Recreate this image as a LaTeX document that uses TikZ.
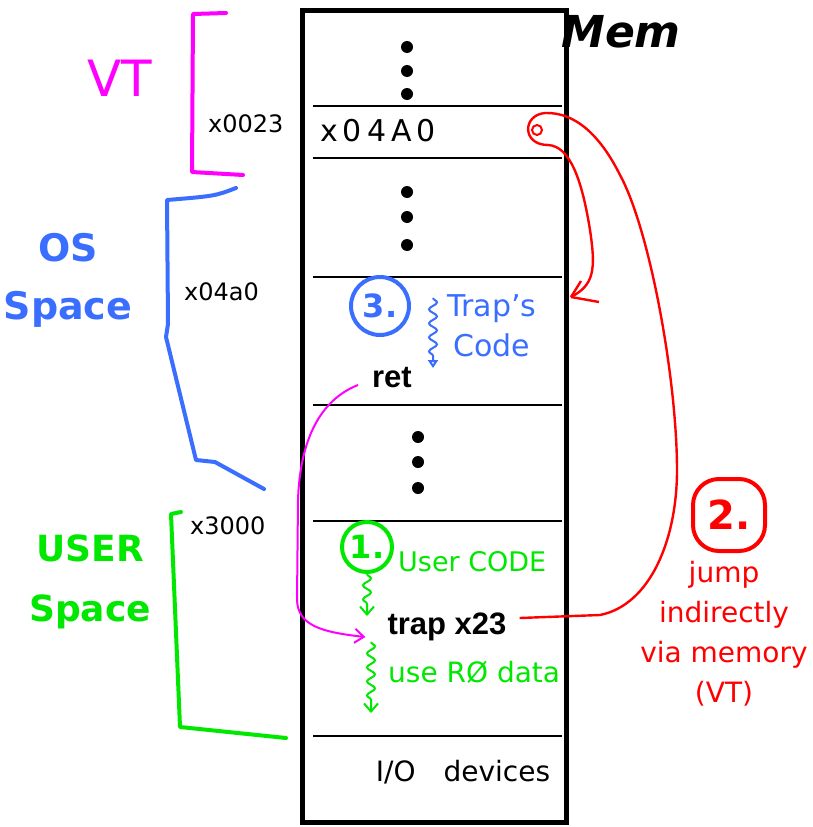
\documentclass[tikz,border=0pt]{standalone}
\usepackage{fontspec}
\setmainfont{DejaVu Sans}
\newfontfamily\codefont{Liberation Sans}
\usetikzlibrary{positioning,arrows.meta,decorations.pathmorphing}
\definecolor{vtpink}{RGB}{255,0,255}
\definecolor{osblue}{RGB}{58,110,255}
\definecolor{usergreen}{RGB}{0,232,0}
\definecolor{jumpred}{RGB}{255,0,0}
\newcommand{\fsize}[2]{\fontsize{#1}{#2}\selectfont}

\begin{document}
\begin{tikzpicture}[x=1pt, y=-1pt]
\tikzstyle{hand} = [inner sep=0pt, align=center]
\tikzstyle{addr} = [hand, font=\fsize{24}{28}]
\tikzstyle{instr} = [inner sep=0pt, font=\codefont\bfseries\fsize{31}{36}]
\tikzstyle{divider} = [draw, line width=2pt]
\tikzstyle{brace} = [line width=4pt, line cap=round, line join=round]
\tikzstyle{squig} = [draw, line width=2pt, decorate, decoration={snake, amplitude=4pt, segment length=14pt, post length=9pt}]
\tikzstyle{numcircle} = [draw, circle, line width=4pt, inner sep=0pt, font=\bfseries\fsize{32}{32}]
\tikzstyle{jumpline} = [draw, jumpred, line width=2.4pt]

\useasboundingbox (0,0) rectangle (812,827);

\node [draw, line width=5pt, minimum width=264pt, minimum height=812pt, inner sep=0pt] (mem) at (434,416) {};
\node [font=\bfseries\itshape\fsize{44}{44}] (memlabel) at (621,32) {Mem};

\foreach \y in {106,158,277,405,521,736}
  \draw [divider] (313,\y) -- (562,\y);
\foreach \y in {47,71,94}
  \fill (407,\y) circle (6);
\foreach \y in {192,217,245}
  \fill (407,\y) circle (6);
\foreach \y in {437,462,488}
  \fill (418,\y) circle (6);

\node [hand, font=\fsize{30}{30}] (vtentry) at (378,131) {x\,0\,4\,A\,0};

\draw [brace, vtpink] (226,13) -- (193,14) -- (192,172) -- (243,175);
\node [hand, vtpink, font=\fsize{50}{50}] (vt) at (120,78) {VT};
\node [addr, anchor=west] (vtaddr) at (208,124) {x0023};

\draw [brace, osblue] (236,188) .. controls (215,196) .. (167,200) -- (168,324) -- (166,337) -- (196,460) -- (215,462) -- (264,489);
\node [hand, osblue, font=\bfseries\fsize{38}{58}] (os) at (68,280) {OS\\Space};
\node [addr, anchor=west] (osaddr) at (184,292) {x04a0};

\draw [brace, usergreen] (181,512) -- (171,514) -- (180,727) -- (286,738);
\node [hand, usergreen, font=\bfseries\fsize{36}{60}] (user) at (90,582) {USER\\Space};
\node [addr, anchor=west] (useraddr) at (190,526) {x3000};

\node [numcircle, osblue, minimum size=58pt] (three) at (380,306) {3.};
\node [hand, osblue, font=\fsize{30}{40}] (trapcode) at (492,326) {Trap’s\\Code};
\draw [squig, osblue, -{Triangle[open, length=8pt, width=10pt]}] (433,298) -- (433,368);
\node [instr] (ret) at (392,378) {ret};

\node [numcircle, usergreen, minimum size=50pt] (one) at (367,547) {1.};
\node [hand, usergreen, font=\fsize{27}{27}, anchor=west] (usercode) at (398,562) {User CODE};
\draw [squig, usergreen, -{Straight Barb[length=8pt, width=14pt]}] (one.south) -- ++(0,42);
\node [instr] (trap) at (447,627) {trap x23};
\node [hand, usergreen, font=\fsize{28}{28}, anchor=west] (usedata) at (388,672) {use RØ data};
\draw [squig, usergreen, -{Straight Barb[length=8pt, width=14pt]}] (371,642) -- (371,713);

\node [hand, font=\fsize{28}{28}] (io) at (463,772) {I/O\quad devices};

\node [draw, jumpred, line width=4pt, rounded corners=26pt, minimum size=72pt, inner sep=0pt, font=\bfseries\fsize{40}{40}] (two) at (729,515) {2.};
\node [hand, jumpred, font=\fsize{28}{40}] (jumpnote) at (724,634) {jump\\indirectly\\via memory\\(VT)};

\coordinate (ptr) at (537,130);
\coordinate (entry) at (571,297);
\draw [jumpred, line width=2pt] (ptr) circle (5);
\draw [jumpline] ([shift={(13,-9)}]trap.east) -- (600,615) .. controls (650,605) and (677,540) .. (677,470) .. controls (677,380) and (650,230) .. (620,175) .. controls (600,135) and (575,112) .. (545,113) .. controls (522,115) and (522,145) .. (548,145) .. controls (570,146) and (582,180) .. (590,230) .. controls (596,270) and (594,285) .. (entry);
\draw [jumpline] (entry) -- ++(10,-16);
\draw [jumpline] (entry) -- ++(28,5);

\draw [vtpink, line width=2pt, -{Straight Barb[length=9pt, width=14pt]}] ([shift={(-14,7)}]ret.west) .. controls (320,400) and (300,440) .. (298,500) -- (297,600) .. controls (298,625) and (320,632) .. ([shift={(-22,10)}]trap.west);
\end{tikzpicture}
\end{document}
